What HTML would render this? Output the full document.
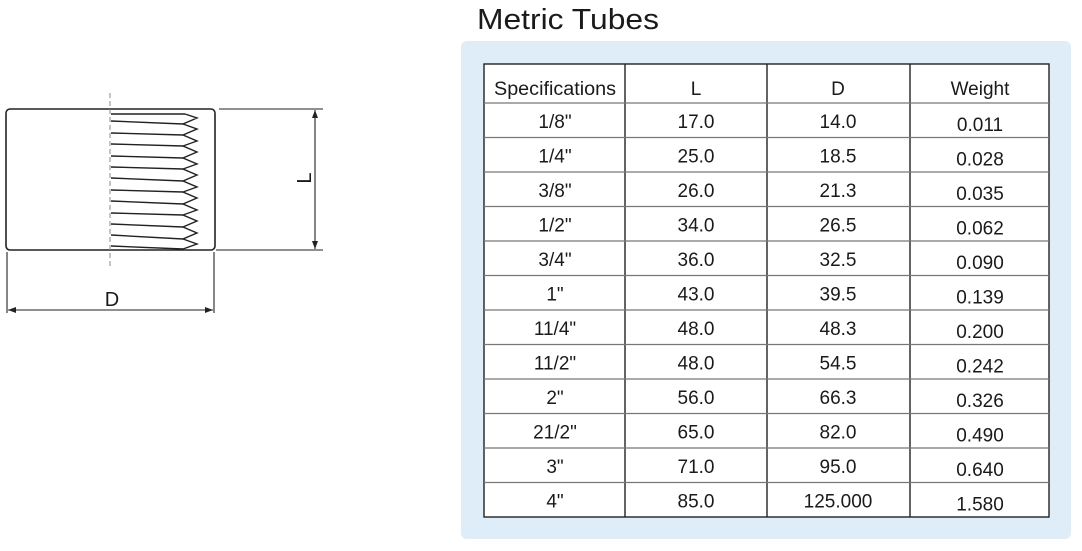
<!DOCTYPE html>
<html><head><meta charset="utf-8"><style>
html,body{margin:0;padding:0;background:#fff;width:1082px;height:551px;overflow:hidden}
svg{display:block}
text{font-family:"Liberation Sans",Arial,sans-serif;fill:#1a1a1a}
</style></head><body>
<svg width="1082" height="551" viewBox="0 0 1082 551">
<g stroke="#222" fill="none">
<rect x="6" y="109" width="209" height="141" rx="4" stroke-width="1.6"/>
<line x1="110" y1="93" x2="110" y2="266" stroke="#888" stroke-width="1" stroke-dasharray="5,3"/>
<g stroke-width="1.4">
<line x1="111" y1="114" x2="185" y2="114"/>
<polyline points="185,114 197,118 183,124 197,129 183,135 197,141 183,146 197,152 183,158 197,164 183,169 197,175 183,181 197,187 183,192 197,198 183,204 197,210 183,215 197,221 183,227 197,233 183,239 197,244 183,249"/>
<line x1="111" y1="121" x2="183" y2="124"/>
<line x1="111" y1="133" x2="183" y2="135"/>
<line x1="111" y1="144" x2="183" y2="146"/>
<line x1="111" y1="156" x2="183" y2="158"/>
<line x1="111" y1="167" x2="183" y2="169"/>
<line x1="111" y1="178" x2="183" y2="181"/>
<line x1="111" y1="190" x2="183" y2="192"/>
<line x1="111" y1="201" x2="183" y2="204"/>
<line x1="111" y1="213" x2="183" y2="215"/>
<line x1="111" y1="224" x2="183" y2="227"/>
<line x1="111" y1="235" x2="183" y2="239"/>
<line x1="111" y1="246" x2="183" y2="249"/>
</g>
<g stroke-width="1.1">
<line x1="219" y1="109" x2="323" y2="109"/>
<line x1="216" y1="250" x2="323" y2="250"/>
<line x1="315" y1="110" x2="315" y2="249"/>
<line x1="7" y1="252" x2="7" y2="313"/>
<line x1="214" y1="252" x2="214" y2="313"/>
<line x1="8" y1="310" x2="213" y2="310"/>
</g>
</g>
<g fill="#222">
<polygon points="315,110 312,118 318,118"/>
<polygon points="315,249 312,241 318,241"/>
<polygon points="8,310 16,307 16,313"/>
<polygon points="213,310 205,307 205,313"/>
</g>
<text x="0" y="0" font-size="20" text-anchor="middle" transform="translate(311,178) rotate(-90)">L</text>
<text x="112" y="306" font-size="20" text-anchor="middle">D</text>
<text x="477" y="29" font-size="29" textLength="182" lengthAdjust="spacingAndGlyphs">Metric Tubes</text>
<rect x="461" y="41" width="610" height="498" rx="6" fill="#deedf7"/>
<rect x="484" y="64" width="565" height="453" fill="#fff"/>
<g stroke="#222" stroke-width="1.4">
<rect x="484" y="64" width="565" height="453" fill="none"/>
<line x1="625" y1="64" x2="625" y2="517"/>
<line x1="767" y1="64" x2="767" y2="517"/>
<line x1="910" y1="64" x2="910" y2="517"/>
</g>
<g stroke="#777" stroke-width="1.3">
<line x1="484" y1="103" x2="1049" y2="103"/>
<line x1="484" y1="137.5" x2="1049" y2="137.5"/>
<line x1="484" y1="172" x2="1049" y2="172"/>
<line x1="484" y1="206.5" x2="1049" y2="206.5"/>
<line x1="484" y1="241" x2="1049" y2="241"/>
<line x1="484" y1="275.5" x2="1049" y2="275.5"/>
<line x1="484" y1="310" x2="1049" y2="310"/>
<line x1="484" y1="344.5" x2="1049" y2="344.5"/>
<line x1="484" y1="379" x2="1049" y2="379"/>
<line x1="484" y1="413.5" x2="1049" y2="413.5"/>
<line x1="484" y1="448" x2="1049" y2="448"/>
<line x1="484" y1="482.5" x2="1049" y2="482.5"/>
</g>
<g font-size="19" text-anchor="middle">
<text x="555" y="95" textLength="122" lengthAdjust="spacingAndGlyphs">Specifications</text><text x="696" y="95">L</text><text x="838" y="95">D</text><text x="980" y="95">Weight</text>
</g>
<g font-size="19" text-anchor="middle">
<text x="555" y="128">1/8"</text><text x="696" y="128">17.0</text><text x="838" y="128">14.0</text><text x="980" y="131">0.011</text>
<text x="555" y="162.5">1/4"</text><text x="696" y="162.5">25.0</text><text x="838" y="162.5">18.5</text><text x="980" y="165.5">0.028</text>
<text x="555" y="197">3/8"</text><text x="696" y="197">26.0</text><text x="838" y="197">21.3</text><text x="980" y="200">0.035</text>
<text x="555" y="231.5">1/2"</text><text x="696" y="231.5">34.0</text><text x="838" y="231.5">26.5</text><text x="980" y="234.5">0.062</text>
<text x="555" y="266">3/4"</text><text x="696" y="266">36.0</text><text x="838" y="266">32.5</text><text x="980" y="269">0.090</text>
<text x="555" y="300.5">1"</text><text x="696" y="300.5">43.0</text><text x="838" y="300.5">39.5</text><text x="980" y="303.5">0.139</text>
<text x="555" y="335">11/4"</text><text x="696" y="335">48.0</text><text x="838" y="335">48.3</text><text x="980" y="338">0.200</text>
<text x="555" y="369.5">11/2"</text><text x="696" y="369.5">48.0</text><text x="838" y="369.5">54.5</text><text x="980" y="372.5">0.242</text>
<text x="555" y="404">2"</text><text x="696" y="404">56.0</text><text x="838" y="404">66.3</text><text x="980" y="407">0.326</text>
<text x="555" y="438.5">21/2"</text><text x="696" y="438.5">65.0</text><text x="838" y="438.5">82.0</text><text x="980" y="441.5">0.490</text>
<text x="555" y="473">3"</text><text x="696" y="473">71.0</text><text x="838" y="473">95.0</text><text x="980" y="476">0.640</text>
<text x="555" y="507.5">4"</text><text x="696" y="507.5">85.0</text><text x="838" y="507.5">125.000</text><text x="980" y="510.5">1.580</text>
</g>
</svg>
</body></html>
